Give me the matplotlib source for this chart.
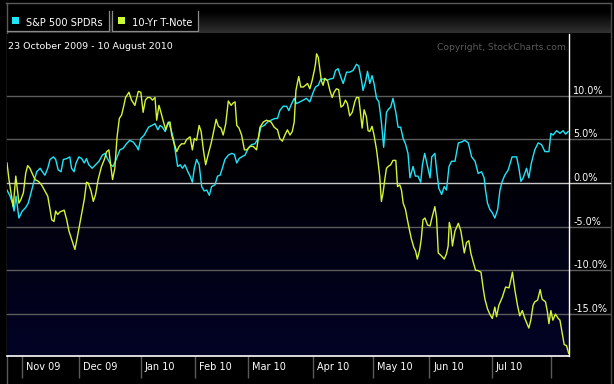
import matplotlib.pyplot as plt
import numpy as np
from matplotlib.patches import Rectangle
from matplotlib.ticker import FormatStrFormatter

# trading-day position (0 = 23 Oct 2009) and % change
spy_day = [0.7, 1.8, 2.6, 3.2, 3.9, 4.9, 6.1, 7.3, 8.2, 9.2, 10.4, 11.2, 12.4, 13.2, 14.1, 15.1,
           15.9, 17.1, 17.9, 18.8, 19.8, 20.6, 21.8, 22.9, 23.5, 24.4, 25.1, 26.1, 27.1, 28.0,
           28.8, 29.6, 30.8, 32.0, 33.2, 34.4, 35.3, 36.2, 37.4, 38.2, 39.4, 40.6, 41.8, 42.9,
           44.1, 45.3, 46.5, 47.1, 48.0, 49.2, 50.7, 51.9, 53.0, 54.0, 54.8, 55.6, 56.6, 57.7,
           58.7, 59.5, 60.3, 61.0, 61.9, 62.7, 63.6, 64.6, 65.4, 66.2, 66.9, 67.7, 68.6, 69.5,
           70.4, 71.3, 72.2, 73.0, 74.2, 75.1, 76.0, 76.8, 77.7, 78.9, 80.1, 81.0, 81.9, 82.7,
           83.6, 84.8, 86.0, 87.1, 88.3, 89.5, 90.4, 91.6, 92.8, 94.0, 95.4, 96.3, 97.1, 98.3,
           99.5, 100.3, 101.0, 102.2, 103.0, 104.2, 105.4, 106.5, 107.7, 108.9, 109.7, 110.7,
           111.6, 112.8, 114.0, 114.8, 116.0, 116.8, 117.7, 118.7, 119.5, 120.7, 121.8, 123.0,
           124.2, 125.0, 126.0, 126.5, 127.4, 128.1, 128.9, 129.7, 130.4, 131.3, 132.1, 133.0,
           133.8, 134.8, 135.6, 136.3, 137.1, 138.1, 138.9, 139.8, 140.7, 141.5, 142.4, 143.1,
           144.2, 145.0, 145.9, 146.9, 147.5, 148.3, 149.2, 150.2, 150.8, 151.9, 152.5, 153.3,
           154.3, 155.2, 156.0, 156.9, 157.8, 159.0, 160.2, 161.3, 162.5, 163.7, 164.9, 166.1,
           167.2, 168.4, 169.3, 169.8, 170.5, 171.3, 172.2, 173.1, 174.1, 174.9, 175.7, 176.6,
           177.8, 179.2, 180.8, 181.6, 182.3, 183.1, 184.3, 185.1, 186.0, 187.2, 188.4, 189.6,
           190.8, 192.2, 192.9, 193.7, 194.9, 196.1, 197.2, 198.1, 199.0]
spy_pct = [-0.8, -1.5, -2.3, -3.2, -1.5, -4.0, -3.2, -2.8, -2.3, -1.1, 0.4, 1.3, 1.7, 1.3, 0.9, 1.7,
           2.7, 3.0, 2.7, 1.5, 1.3, 2.7, 2.8, 3.0, 1.7, 1.3, 2.3, 3.0, 2.8, 2.3,
           2.8, 2.1, 1.7, 2.1, 2.5, 3.2, 3.4, 2.8, 2.1, 1.9, 2.8, 3.8, 4.0, 4.5,
           4.9, 4.7, 4.2, 3.8, 5.1, 5.5, 6.4, 6.6, 6.8, 6.1, 6.6, 6.4, 5.9, 7.0,
           6.1, 5.1, 3.4, 1.9, 2.1, 1.7, 2.1, 1.3, 0.8, 0.1, 1.7, 2.7, 2.1, -0.4,
           -0.9, -0.8, -1.4, -0.4, -0.2, 0.8, 0.9, 1.7, 2.7, 3.2, 3.4, 3.3, 2.3, 2.8,
           3.0, 3.2, 4.0, 4.4, 4.5, 5.1, 6.4, 6.6, 7.0, 7.2, 7.4, 7.4, 8.3, 8.8,
           8.8, 8.3, 8.9, 9.7, 9.1, 9.3, 9.5, 9.7, 9.3, 10.4, 11.0, 11.2,
           11.9, 11.9, 11.8, 11.9, 12.0, 12.9, 13.1, 12.1, 11.4, 12.7, 12.7, 12.9,
           13.6, 13.4, 11.7, 10.6, 11.6, 12.8, 11.4, 12.3, 11.4, 9.7, 9.3, 7.0,
           4.1, 8.1, 8.5, 8.7, 9.7, 8.1, 6.4, 6.4, 5.1, 4.5, 3.4, 0.6,
           1.9, 0.8, 0.8, 0.1, 2.1, 3.4, 2.1, 0.6, 3.0, 3.4, 1.5, -0.6,
           -1.3, -0.4, -0.8, 1.9, 2.5, 2.5, 4.6, 4.7, 4.9, 4.6, 3.0, 2.5,
           1.1, 1.3, 0.6, -0.8, -2.3, -3.0, -3.4, -4.0, -3.0, -0.8, 0.2, 0.9,
           1.5, 3.0, 3.0, 1.7, 0.2, 0.6, 1.7, 0.6, 2.3, 3.8, 4.6, 4.4,
           3.6, 3.6, 5.7, 5.5, 6.0, 5.7, 6.0, 5.6, 5.9]

tnx_day = [0.7, 1.4, 2.1, 2.9, 3.8, 4.5, 4.9, 5.6, 6.5, 7.3, 8.0, 8.8, 9.6, 10.6, 11.8, 12.9,
           14.1, 15.1, 15.9, 16.5, 17.3, 17.9, 18.6, 19.4, 20.9, 21.8, 22.6, 23.5, 24.7, 25.6,
           26.8, 28.0, 28.8, 29.4, 30.4, 31.2, 32.0, 32.9, 34.1, 35.1, 35.9, 36.7, 37.4, 38.0,
           38.8, 39.6, 40.4, 41.2, 42.0, 42.6, 43.8, 44.7, 45.9, 47.1, 48.0, 48.8, 49.6, 50.4,
           51.3, 52.1, 53.0, 53.6, 54.4, 55.1, 56.0, 56.8, 57.5, 58.3, 58.9, 59.9, 60.7, 61.5,
           62.4, 63.4, 64.2, 65.4, 66.2, 66.9, 67.7, 68.6, 69.3, 70.1, 70.9, 71.9, 72.8, 73.6,
           74.6, 75.4, 76.3, 77.1, 78.0, 78.9, 79.9, 80.7, 81.3, 81.9, 82.7, 83.6, 84.6, 85.4,
           86.6, 87.7, 88.9, 89.5, 90.1, 91.3, 92.4, 94.0, 95.1, 96.3, 97.1, 98.0, 98.9, 99.8,
           100.7, 101.5, 102.2, 102.8, 103.4, 103.8, 104.5, 105.4, 106.2, 106.9, 107.7, 108.5,
           109.3, 109.7, 110.1, 110.7, 111.3, 111.8, 112.4, 113.0, 114.0, 114.8, 115.6, 116.3,
           117.1, 117.9, 118.7, 119.5, 120.3, 121.0, 121.8, 122.7, 123.6, 124.2, 125.0, 125.7,
           126.2, 126.9, 127.7, 128.3, 128.9, 129.7, 130.4, 131.3, 131.8, 132.4, 133.0, 133.6,
           134.2, 134.8, 135.4, 136.3, 137.1, 138.1, 138.7, 139.5, 140.1, 140.7, 141.5, 142.2,
           143.0, 143.6, 144.5, 145.1, 145.7, 146.5, 147.1, 147.7, 148.4, 149.3, 150.2, 151.0,
           151.9, 152.5, 153.1, 154.1, 155.2, 156.0, 156.6, 157.0, 157.6, 158.1, 159.0, 160.2,
           161.1, 162.3, 163.1, 163.9, 164.6, 165.5, 166.3, 167.0, 168.2, 169.0, 169.6, 170.5,
           171.3, 172.2, 173.1, 173.7, 174.5, 175.7, 176.9, 178.1, 178.8, 179.3, 180.2, 181.1,
           181.9, 182.8, 183.7, 185.1, 185.8, 186.6, 187.2, 188.2, 189.1, 189.8, 191.0, 191.7,
           192.2, 192.9, 193.6, 194.5, 195.5, 196.1, 196.9, 197.6, 198.4, 199.2]
tnx_pct = [2.3, 0.4, -1.1, -2.7, 0.8, -1.1, -2.3, -1.9, -1.1, 1.1, 2.0, 1.7, 1.1, 0.4, 0.2, -0.2,
           -0.9, -1.5, -3.0, -4.2, -4.4, -3.2, -3.6, -3.3, -3.1, -4.2, -5.5, -6.4, -7.6, -6.1,
           -4.0, -1.9, 0.1, 0.0, -0.9, -2.1, -1.3, 0.4, 1.9, 2.7, 3.6, 3.8, 1.9, 0.4,
           1.7, 5.3, 7.4, 7.8, 8.9, 9.8, 10.4, 9.5, 8.9, 10.5, 10.4, 8.1, 9.5, 9.8,
           9.8, 9.5, 9.8, 7.2, 8.9, 8.1, 7.0, 6.1, 6.8, 7.0, 5.5, 4.4, 3.6, 4.2,
           4.5, 4.5, 5.0, 5.3, 3.8, 5.1, 4.9, 6.6, 5.9, 3.8, 2.1, 3.4, 4.5, 5.7,
           7.3, 6.5, 6.3, 5.5, 6.8, 9.4, 8.9, 9.2, 9.3, 6.6, 6.3, 5.5, 3.8, 3.8,
           4.2, 4.2, 3.8, 5.1, 6.4, 7.0, 7.2, 7.0, 6.4, 6.1, 5.1, 4.8, 5.5, 6.1,
           5.5, 5.9, 7.0, 10.6, 11.6, 12.2, 11.0, 11.0, 11.2, 11.4, 10.8, 11.7,
           12.9, 13.6, 14.8, 14.4, 12.9, 11.7, 11.2, 12.0, 11.7, 10.6, 9.8, 10.4,
           10.8, 10.7, 8.7, 8.9, 9.5, 9.1, 7.7, 8.1, 9.3, 9.8, 9.8, 7.8,
           6.3, 8.4, 7.6, 6.0, 5.9, 6.5, 5.5, 3.8, 2.5, 0.8, -2.1, -1.1,
           0.4, 1.7, 1.9, 2.1, 2.6, 2.6, -0.4, -0.2, -0.8, -2.3, -3.0, -4.2,
           -5.5, -6.4, -7.4, -7.8, -8.7, -7.7, -6.4, -4.2, -4.0, -4.8, -4.9, -3.8,
           -2.7, -4.0, -8.0, -8.3, -8.7, -8.1, -7.2, -4.5, -5.3, -7.2, -5.5, -4.6,
           -5.5, -8.0, -6.8, -6.6, -8.0, -9.1, -10.0, -10.0, -10.2, -12.1, -13.3, -14.4,
           -15.0, -15.5, -14.2, -15.3, -14.0, -13.1, -11.9, -12.0, -11.0, -10.2, -12.3, -14.0,
           -15.2, -14.6, -15.5, -16.6, -15.7, -14.0, -13.6, -13.4, -12.2, -13.3, -13.6, -14.8,
           -16.1, -14.6, -15.7, -15.0, -15.5, -15.7, -17.2, -18.5, -18.6, -19.5]

month_day = [6, 26, 48, 67, 86, 109, 130, 150, 172, 193]
month_lbl = ['Nov 09', 'Dec 09', 'Jan 10', 'Feb 10', 'Mar 10', 'Apr 10', 'May 10', 'Jun 10', 'Jul 10', '']
pct_ticks = [-15, -10, -5, 0, 5, 10]

CYAN = '#1ee6f8'
LIME = '#d4f531'
W, H = 614, 384

fig = plt.figure(figsize=(W / 100, H / 100), dpi=100, facecolor='black')

# background / header layer in pixel coords
bg = fig.add_axes([0, 0, 1, 1])
bg.set_xlim(0, W)
bg.set_ylim(H, 0)
bg.axis('off')
rows = np.clip((np.linspace(3, 33, 60) - 12) / 21, 0, 1) * 0.19
grad = np.repeat(rows[:, None, None], 3, axis=2)
bg.imshow(grad, extent=[7, 611, 33, 3], aspect='auto', interpolation='bilinear')
bg.plot([6, 611], [3, 3], color='#5a5a5a', lw=1)
bg.plot([7, 7], [3, H], color='#5a5a5a', lw=1)
bg.plot([611, 611], [3, H], color='#4a4a4a', lw=1)
# legend tabs: black boxes with grey side/bottom edges
bg.add_patch(Rectangle((7, 11), 102, 20, facecolor='black', edgecolor='none'))
bg.add_patch(Rectangle((112, 11), 86, 20, facecolor='black', edgecolor='none'))
bg.plot([109, 109, 7], [11, 31, 31], color='#8a8a8a', lw=0.9)
bg.plot([112, 112, 198, 198], [11, 31, 31, 11], color='#8a8a8a', lw=0.9)
bg.add_patch(Rectangle((12, 17), 7, 7, facecolor=CYAN, edgecolor='none'))
bg.add_patch(Rectangle((118, 17), 7, 7, facecolor='#ccff33', edgecolor='none'))
bg.text(26, 22.5, 'S&P 500 SPDRs', color='white', fontsize=7.1, va='center', ha='left')
bg.text(132, 22.5, '10-Yr T-Note', color='white', fontsize=7.1, va='center', ha='left')

ax = fig.add_axes([7 / W, 28 / H, 562 / W, 322 / H])
ax.set_facecolor('black')
x0, x1 = 0.7, 199.3
y0, y1 = -19.8, 17.07
ax.set_xlim(x0, x1)
ax.set_ylim(y0, y1)

# dark navy gradient toward the bottom
vv = np.linspace(y1, y0, 200)
t = np.clip((5 - vv) / 25, 0, 1)
shade = np.stack([t * 0.01, t * 0.01, t * 0.15], axis=1)[:, None, :]
ax.imshow(shade, extent=[x0, x1, y0, y1], aspect='auto', zorder=0, interpolation='bilinear')

for v in pct_ticks:
    ax.axhline(v, xmin=0, xmax=(610 - 7) / 562, clip_on=False, lw=1,
               color='#c8c8c8' if v == 0 else '#5c5c5c', zorder=1)

ax.plot(spy_day, spy_pct, color=CYAN, lw=1.0, zorder=3)
ax.plot(tnx_day, tnx_pct, color=LIME, lw=1.0, zorder=4)

ax.yaxis.tick_right()
ax.set_yticks(pct_ticks)
ax.yaxis.set_major_formatter(FormatStrFormatter('%.1f%%'))
ax.tick_params(axis='y', length=0, pad=3, labelsize=6.9, labelcolor='white')
for lbl in ax.get_yticklabels():
    lbl.set_va('bottom')

ax.set_xticks(month_day)
ax.tick_params(axis='x', length=16, width=1, color='#5a5a5a', direction='out', labelbottom=False)
for d, lbl in zip(month_day, month_lbl):
    ax.annotate(lbl, xy=(d, 0), xycoords=('data', 'axes fraction'), xytext=(4, -11),
                textcoords='offset pixels', color='white', fontsize=7, va='center', ha='left',
                annotation_clip=False)

for side in ['top', 'left']:
    ax.spines[side].set_visible(False)
ax.spines['right'].set_color('white')
ax.spines['bottom'].set_color('white')
ax.spines['right'].set_linewidth(1)
ax.spines['bottom'].set_linewidth(1.2)

fig.text(8 / W, 1 - 46.7 / H, '23 October 2009 - 10 August 2010', color='white',
         fontsize=6.8, va='center', ha='left')
fig.text(566 / W, 1 - 47.5 / H, 'Copyright, StockCharts.com', color='#5a5a5a',
         fontsize=6.6, va='center', ha='right')

fig.savefig('out.png', dpi=100, facecolor='black')
